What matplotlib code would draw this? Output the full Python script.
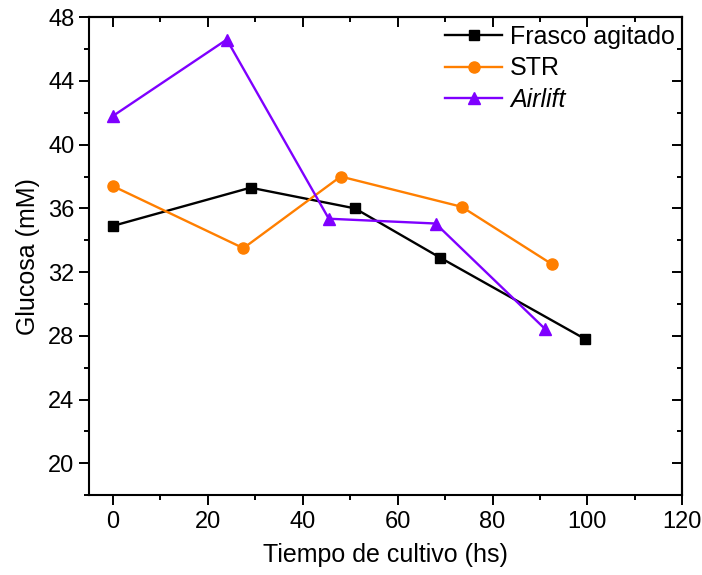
import matplotlib
matplotlib.use("Agg")
import matplotlib.pyplot as plt
from matplotlib.ticker import MultipleLocator

plt.rcParams['font.family'] = ['Liberation Sans', 'DejaVu Sans']

# Data
frasco_t = [0, 29, 51, 69, 99.5]
frasco_glc = [34.9, 37.3, 36.0, 32.9, 27.8]

str_t = [0, 27.5, 48, 73.5, 92.5]
str_glc = [37.4, 33.5, 38.0, 36.1, 32.5]

airlift_t = [0, 24, 45.5, 68, 91]
airlift_glc = [41.8, 46.6, 35.35, 35.05, 28.45]

fig = plt.figure(figsize=(7.02, 5.75), dpi=100)
ax = fig.add_axes([0.127, 0.139, 0.845, 0.831])

ax.plot(frasco_t, frasco_glc, marker='s', color='black', lw=1.7, ms=7, label='Frasco agitado')
ax.plot(str_t, str_glc, marker='o', color='#FF7F00', lw=1.7, ms=8, label='STR')
ax.plot(airlift_t, airlift_glc, marker='^', color='#7F00FF', lw=1.7, ms=8.5, label='Airlift')

ax.set_xlim(-5, 120)
ax.set_ylim(18, 48)

# bottom/left ticks point out, top/right ticks point in
ax.xaxis.set_major_locator(MultipleLocator(20))
ax.xaxis.set_minor_locator(MultipleLocator(10))
ax.yaxis.set_major_locator(MultipleLocator(4))
ax.yaxis.set_minor_locator(MultipleLocator(2))
ax.tick_params(which='both', direction='out', top=False, right=False, labelsize=17, width=1.4)
ax.tick_params(which='major', length=7)
ax.tick_params(which='minor', length=3.6)
ax.tick_params(axis='x', pad=4.5)

tx = ax.secondary_xaxis('top')
tx.xaxis.set_major_locator(MultipleLocator(20))
tx.xaxis.set_minor_locator(MultipleLocator(10))
tx.tick_params(which='both', direction='in', labeltop=False, width=1.4)
tx.tick_params(which='major', length=7)
tx.tick_params(which='minor', length=3.6)
ty = ax.secondary_yaxis('right')
ty.yaxis.set_major_locator(MultipleLocator(4))
ty.yaxis.set_minor_locator(MultipleLocator(2))
ty.tick_params(which='both', direction='in', labelright=False, width=1.4)
ty.tick_params(which='major', length=7)
ty.tick_params(which='minor', length=3.6)
for s in list(ax.spines.values()) + [tx.spines['top'], ty.spines['right']]:
    s.set_linewidth(1.5)

ax.set_xlabel('Tiempo de cultivo (hs)', fontsize=18, labelpad=7)
ax.set_ylabel('Glucosa (mM)', fontsize=18, labelpad=6)

leg = ax.legend(loc='upper right', fontsize=18, frameon=False, handlelength=2.3,
                handletextpad=0.3, labelspacing=0.3, borderpad=0.2, borderaxespad=0.1)
leg.get_texts()[2].set_style('italic')

fig.savefig('out.png', dpi=100)
